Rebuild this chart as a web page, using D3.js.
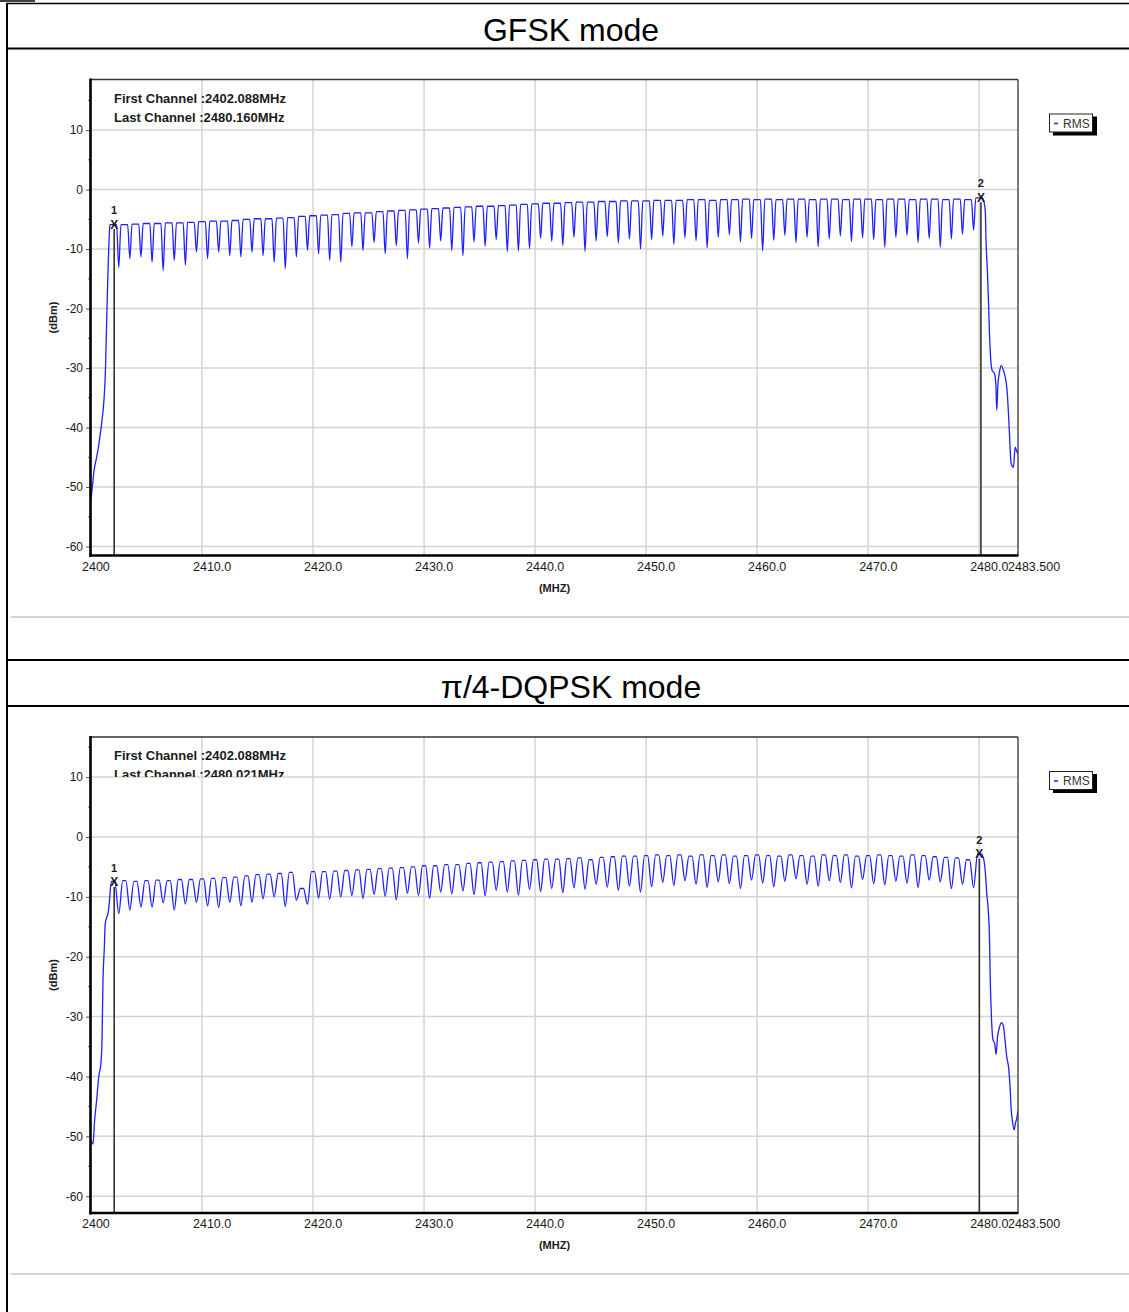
<!DOCTYPE html>
<meta charset="utf-8">
<style>
body { margin: 0; background: #fff; }
text { font-family: "Liberation Sans", Arial, sans-serif; fill: #1a1a1a; }
.grid line { stroke: #d4d4d4; stroke-width: 1.5px; }
.trace { fill: none; stroke: #1f1fff; stroke-width: 1.3px; }
</style>
<svg width="1129" height="1312"></svg>
<script src="https://d3js.org/d3.v7.min.js"></script>
<script>

// ---- data ----
var firstChannel = 2402;   // channel centres run 2402..2480 MHz, 1 MHz apart

var xTicks = [2400, 2410, 2420, 2430, 2440, 2450, 2460, 2470, 2480, 2483.5];
var xTickLabels = ["2400", "2410.0", "2420.0", "2430.0", "2440.0", "2450.0", "2460.0", "2470.0", "2480.0", "2483.500"];
var yTicks = [-60, -50, -40, -30, -20, -10, 0, 10];

// GFSK
var gfskTitle = "GFSK mode";
var gfskNotes = ["First Channel :2402.088MHz", "Last Channel :2480.160MHz"];
var gfskYDomain = [-61.5, 18.5];
var gfskMarkerFreq = [2402.088, 2480.160];
var gfskMarkerVal = [-5.8, -1.3];
var gfskPeaks = [
  -5.9, -5.9, -5.8, -5.7, -5.7, -5.6, -5.6, -5.5, -5.4, -5.3,
  -5.3, -5.2, -5.0, -4.9, -4.9, -4.8, -4.7, -4.5, -4.4, -4.3,
  -4.2, -4.0, -3.9, -3.9, -3.7, -3.6, -3.5, -3.4, -3.3, -3.2,
  -3.1, -3.0, -2.9, -2.8, -2.8, -2.7, -2.6, -2.5, -2.4, -2.3,
  -2.3, -2.2, -2.1, -2.1, -2.0, -2.0, -1.9, -1.9, -1.9, -1.8,
  -1.8, -1.8, -1.7, -1.7, -1.8, -1.7, -1.7, -1.6, -1.7, -1.6,
  -1.7, -1.6, -1.6, -1.7, -1.6, -1.6, -1.7, -1.6, -1.6, -1.7,
  -1.6, -1.6, -1.7, -1.6, -1.6, -1.7, -1.6, -1.7, -1.4];
var gfskDips = [
  -13.1, -11.6, -11.3, -12.2, -13.6, -11.9, -12.7, -10.5, -11.6, -10.5,
  -11.1, -11.3, -10.5, -11.1, -12.2, -13.3, -11.3, -10.2, -10.8, -11.9,
  -12.2, -9.6, -10.2, -8.9, -10.8, -9.4, -11.6, -9.0, -9.8, -8.6,
  -10.2, -11.1, -8.8, -9.5, -8.4, -10.4, -10.3, -9.9, -8.2, -8.7,
  -9.4, -8.0, -10.4, -8.6, -7.9, -9.0, -8.3, -10.0, -8.4, -7.8,
  -9.2, -8.1, -8.6, -9.8, -8.0, -7.6, -8.8, -8.2, -10.3, -8.5,
  -7.7, -8.9, -8.0, -9.6, -8.3, -7.8, -8.7, -8.1, -8.4, -9.7,
  -8.0, -7.7, -8.9, -8.2, -9.7, -8.3, -7.5, -6.8];
var gfskLeftEdge = [
  [2400.0, -52.0], [2400.12, -50.0], [2400.3, -46.9], [2400.45, -45.5], [2400.6, -44.1],
  [2400.75, -42.2], [2400.99, -38.8], [2401.17, -35.3], [2401.3, -30.5], [2401.38, -24.5],
  [2401.46, -18.5], [2401.55, -12.5], [2401.65, -7.5]];
var gfskRightEdge = [
  [2480.55, -3.5], [2480.63, -9.1], [2480.75, -14.0], [2480.84, -18.7], [2480.93, -24.2],
  [2481.05, -28.7], [2481.17, -30.4], [2481.38, -30.9], [2481.5, -32.6], [2481.59, -37.1],
  [2481.68, -33.0], [2481.83, -30.7], [2481.98, -29.6], [2482.19, -30.4], [2482.43, -32.4],
  [2482.55, -34.6], [2482.64, -37.6], [2482.73, -41.0], [2482.88, -46.0], [2483.09, -46.7],
  [2483.24, -43.3], [2483.4, -44.1], [2483.5, -44.4]];

// pi/4-DQPSK
var dqpskTitle = "π/4-DQPSK mode";
var dqpskNotes = ["First Channel :2402.088MHz", "Last Channel :2480.021MHz"];
var dqpskYDomain = [-62.8, 16.7];
var dqpskMarkerFreq = [2402.088, 2480.021];
var dqpskMarkerVal = [-7.5, -2.8];
var dqpskPeaks = [
  -7.4, -7.3, -7.4, -7.3, -7.2, -7.3, -7.1, -7.1, -7.0, -6.9,
  -6.8, -6.7, -6.5, -6.3, -6.2, -6.1, -5.9, -8.6, -5.8, -5.8,
  -5.7, -5.6, -5.5, -5.4, -5.3, -5.2, -5.1, -5.0, -4.8, -4.8,
  -4.6, -4.6, -4.4, -4.3, -4.2, -4.1, -4.0, -3.9, -3.8, -3.7,
  -3.7, -3.6, -3.5, -3.8, -3.4, -3.3, -3.2, -3.2, -3.1, -3.0,
  -3.1, -3.0, -3.2, -3.0, -3.1, -3.0, -3.2, -3.1, -3.0, -3.1,
  -3.2, -3.0, -3.1, -3.2, -3.0, -3.1, -3.0, -3.2, -3.1, -3.0,
  -3.1, -3.2, -3.0, -3.1, -3.3, -3.4, -3.5, -3.8, -2.8];
var dqpskDips = [
  -12.8, -12.2, -11.7, -11.7, -11.0, -12.2, -11.2, -10.9, -11.5, -11.8,
  -10.9, -11.5, -10.9, -10.3, -10.0, -11.6, -10.6, -11.2, -10.2, -10.4,
  -10.0, -9.8, -10.3, -9.6, -9.9, -10.5, -9.4, -9.8, -10.2, -9.2,
  -9.5, -9.0, -9.6, -9.8, -8.9, -9.2, -9.7, -8.8, -9.1, -8.6,
  -9.3, -8.5, -8.7, -7.9, -8.4, -8.9, -8.2, -9.2, -8.3, -7.6,
  -8.1, -7.3, -7.9, -8.4, -7.5, -7.8, -8.6, -7.2, -7.7, -8.3,
  -7.4, -7.0, -7.9, -8.2, -7.3, -7.6, -8.5, -7.1, -7.8, -8.0,
  -7.4, -7.7, -8.4, -7.2, -7.5, -8.6, -7.9, -8.5];
var dqpskLeftEdge = [
  [2400.0, -50.5], [2400.18, -51.3], [2400.32, -47.5], [2400.5, -44.1], [2400.7, -40.0],
  [2400.88, -38.0], [2400.98, -35.0], [2401.08, -24.0], [2401.2, -18.5], [2401.28, -14.5],
  [2401.42, -13.4], [2401.55, -12.6], [2401.66, -10.8], [2401.75, -8.6]];
var dqpskRightEdge = [
  [2480.35, -3.3], [2480.54, -5.5], [2480.69, -9.5], [2480.84, -12.8], [2480.93, -16.7],
  [2480.99, -22.9], [2481.11, -30.2], [2481.23, -33.7], [2481.41, -34.6], [2481.53, -36.3],
  [2481.65, -33.5], [2481.83, -31.8], [2482.01, -31.0], [2482.19, -31.6], [2482.34, -34.1],
  [2482.5, -36.9], [2482.64, -38.3], [2482.79, -41.9], [2482.88, -45.3], [2483.0, -47.5],
  [2483.15, -48.9], [2483.27, -47.8], [2483.4, -46.9], [2483.5, -45.8]];

// ---- layout ----
var svg = d3.select("svg");
var plotLeft = 91, plotRight = 1018, plotHeight = 476;

var x = d3.scaleLinear().domain([2400, 2483.5]).range([plotLeft, plotRight]);

// page table lines
function hline(y, x1, x2, colour, w) {
  svg.append("line").attr("x1", x1).attr("x2", x2).attr("y1", y).attr("y2", y)
     .style("stroke", colour).style("stroke-width", w);
}
hline(1, 0, 35, "#000", 1.5);
hline(3.5, 6, 1129, "#000", 1.5);
hline(48.5, 7, 1129, "#000", 2);
hline(617, 11, 1129, "#a8a8a8", 1);
hline(660, 7, 1129, "#000", 2);
hline(706, 7, 1129, "#000", 2);
hline(1274, 11, 1129, "#a8a8a8", 1);
svg.append("line").attr("x1", 7).attr("x2", 7).attr("y1", 3).attr("y2", 1312)
   .style("stroke", "#000").style("stroke-width", 2);

function addTitle(y, txt) {
  svg.append("text").attr("x", 571).attr("y", y)
     .attr("text-anchor", "middle").style("font-size", "32px").style("fill", "#000")
     .text(txt);
}

// builds the trace: roll-off edge, one hump per channel with a dip between, roll-off edge
function buildTrace(leftEdge, peaks, dips, rightEdge, halfTop) {
  var pts = leftEdge.map(function(d) { return [d[0], d[1]]; });
  for (var i = 0; i < peaks.length; i++) {
    var f = firstChannel + i;
    pts.push([f - halfTop, peaks[i]]);
    pts.push([f + halfTop, peaks[i]]);
    if (i < dips.length) pts.push([f + 0.5, dips[i]]);
  }
  rightEdge.forEach(function(d) { pts.push([d[0], d[1]]); });
  return pts;
}

function drawChart(id, top, cfg) {
  var bottom = top + plotHeight;
  var y = d3.scaleLinear().domain(cfg.yDomain).range([bottom, top]);
  var g = svg.append("g");

  // grid
  var grid = g.append("g").attr("class", "grid");
  grid.selectAll(".gy").data(yTicks).enter().append("line")
      .attr("x1", plotLeft).attr("x2", plotRight)
      .attr("y1", function(d) { return y(d); }).attr("y2", function(d) { return y(d); });
  grid.selectAll(".gx").data(xTicks.slice(1, xTicks.length - 1)).enter().append("line")
      .attr("x1", function(d) { return x(d); }).attr("x2", function(d) { return x(d); })
      .attr("y1", top).attr("y2", bottom);

  // y axis ticks, minor every 5 dB
  var yAxis = d3.axisLeft(y).tickValues(yTicks).tickSize(4).tickPadding(3)
      .tickFormat(function(d) { return String(d); });
  var ya = g.append("g").attr("transform", "translate(" + (plotLeft - 1) + ",0)").call(yAxis);
  ya.select(".domain").remove();
  ya.selectAll("line").style("stroke", "#555");
  ya.selectAll("text").style("font-size", "12px").style("font-family", "Liberation Sans, Arial, sans-serif").style("fill", "#1a1a1a");
  var minor = d3.range(-60, 16, 5).filter(function(d) { return d % 10 !== 0; });
  g.selectAll(".minor").data(minor).enter().append("line")
      .attr("x1", plotLeft - 3).attr("x2", plotLeft)
      .attr("y1", function(d) { return y(d); }).attr("y2", function(d) { return y(d); })
      .style("stroke", "#777").style("stroke-width", 1);

  // x tick labels
  g.selectAll(".xl").data(xTicks).enter().append("text")
      .attr("x", function(d, i) { return x(d) - (i === xTicks.length - 1 ? 10 : 9); })
      .attr("y", bottom + 15)
      .style("font-size", "12.5px")
      .text(function(d, i) { return xTickLabels[i]; });

  // axis titles
  g.append("text").attr("x", (plotLeft + plotRight) / 2).attr("y", bottom + 36)
      .attr("text-anchor", "middle").style("font-size", "11px").style("font-weight", "bold")
      .text("(MHZ)");
  g.append("text")
      .attr("transform", "translate(57," + (top + plotHeight / 2) + ") rotate(-90)")
      .attr("text-anchor", "middle").style("font-size", "11px").style("font-weight", "bold")
      .text("(dBm)");

  // trace
  g.append("clipPath").attr("id", "clip" + id).append("rect")
      .attr("x", plotLeft).attr("y", top).attr("width", plotRight - plotLeft).attr("height", plotHeight);
  var pts = buildTrace(cfg.leftEdge, cfg.peaks, cfg.dips, cfg.rightEdge, cfg.halfTop);
  var line = d3.line()
      .x(function(d) { return x(d[0]); })
      .y(function(d) { return y(d[1]); })
      .curve(d3.curveMonotoneX);
  g.append("path").datum(pts).attr("class", "trace")
      .attr("clip-path", "url(#clip" + id + ")")
      .attr("d", line);

  // markers
  cfg.markerFreq.forEach(function(f, i) {
    var mx = x(f), my = y(cfg.markerVal[i]);
    g.append("line").attr("x1", mx).attr("x2", mx).attr("y1", my + 5).attr("y2", bottom)
        .style("stroke", "#333").style("stroke-width", 1.6);
    g.append("text").attr("x", mx).attr("y", my + 4.5).attr("text-anchor", "middle")
        .style("font-size", "12px").style("font-weight", "bold").text("X");
    g.append("text").attr("x", mx).attr("y", my - 10).attr("text-anchor", "middle")
        .style("font-size", "11px").style("font-weight", "bold").text(i + 1);
  });

  // plot frame: heavy left/bottom, light top/right
  g.append("line").attr("x1", plotLeft).attr("x2", plotRight).attr("y1", top).attr("y2", top)
      .style("stroke", "#333").style("stroke-width", 1.3);
  g.append("line").attr("x1", plotRight).attr("x2", plotRight).attr("y1", top).attr("y2", bottom)
      .style("stroke", "#333").style("stroke-width", 1.3);
  g.append("line").attr("x1", plotLeft - 0.5).attr("x2", plotLeft - 0.5).attr("y1", top - 1).attr("y2", bottom + 1.5)
      .style("stroke", "#000").style("stroke-width", 2.6);
  g.append("line").attr("x1", plotLeft - 1.5).attr("x2", plotRight + 0.5).attr("y1", bottom).attr("y2", bottom)
      .style("stroke", "#000").style("stroke-width", 2.6);

  // channel notes, clipped at the top grid line
  g.append("clipPath").attr("id", "noteclip" + id).append("rect")
      .attr("x", plotLeft).attr("y", top).attr("width", 400).attr("height", y(10) - top);
  var notes = g.append("g").attr("clip-path", "url(#noteclip" + id + ")");
  cfg.notes.forEach(function(t, i) {
    notes.append("text").attr("x", 114).attr("y", top + 23 + i * 19)
        .style("font-size", "13px").style("font-weight", "bold").text(t);
  });

  // legend
  var lg = g.append("g").attr("transform", "translate(1049," + (top + 34) + ")");
  lg.append("rect").attr("x", 4).attr("y", 3).attr("width", 44).attr("height", 19).style("fill", "#000");
  lg.append("rect").attr("x", 0.5).attr("y", 0.5).attr("width", 43).attr("height", 18)
      .style("fill", "#fff").style("stroke", "#222");
  lg.append("line").attr("x1", 5).attr("x2", 9).attr("y1", 10).attr("y2", 10)
      .style("stroke", "#1f1fff").style("stroke-width", 1.5);
  lg.append("text").attr("x", 14).attr("y", 14).style("font-size", "12px").style("fill", "#333").text("RMS");
}

addTitle(41, gfskTitle);
drawChart(1, 79.5, {
  yDomain: gfskYDomain, notes: gfskNotes, peaks: gfskPeaks, dips: gfskDips,
  leftEdge: gfskLeftEdge, rightEdge: gfskRightEdge, halfTop: 0.3,
  markerFreq: gfskMarkerFreq, markerVal: gfskMarkerVal
});

addTitle(698, dqpskTitle);
drawChart(2, 737, {
  yDomain: dqpskYDomain, notes: dqpskNotes, peaks: dqpskPeaks, dips: dqpskDips,
  leftEdge: dqpskLeftEdge, rightEdge: dqpskRightEdge, halfTop: 0.14,
  markerFreq: dqpskMarkerFreq, markerVal: dqpskMarkerVal
});

</script>
